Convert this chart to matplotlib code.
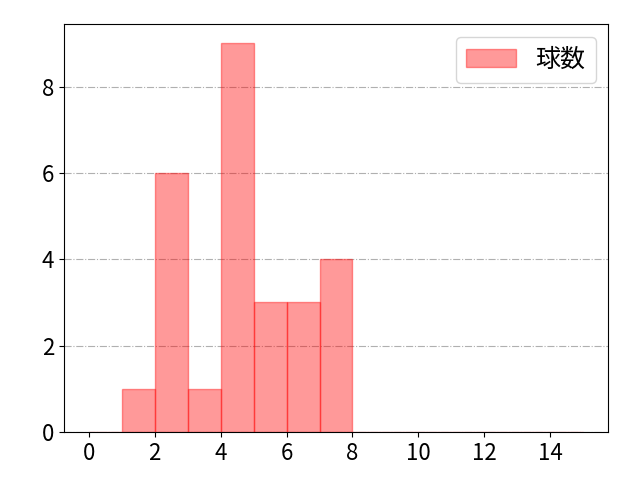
import numpy as np
import matplotlib
matplotlib.use('Agg')
import matplotlib.pyplot as plt
from matplotlib.ticker import MultipleLocator

plt.rcParams['font.family'] = ['Noto Sans CJK JP', 'DejaVu Sans']

# counts per bin of width 1 (0..15)
bin_edges = list(range(0, 16))
counts = [0, 1, 6, 1, 9, 3, 3, 4, 0, 0, 0, 0, 0, 0, 0]
label = "球数"

fig, ax = plt.subplots(figsize=(6.4, 4.8), dpi=100)
fig.subplots_adjust(left=0.1, right=0.95, bottom=0.1, top=0.95)

ax.hist(bin_edges[:-1], bins=bin_edges, weights=counts,
        color='red', alpha=0.4, edgecolor='red', label=label)

ax.xaxis.set_major_locator(MultipleLocator(2))
ax.grid(axis='y', linestyle='-.', color='#b0b0b0', linewidth=0.8)
ax.set_axisbelow(True)
ax.tick_params(labelsize=16)
ax.legend(fontsize=18, loc='upper right')

plt.savefig('out.png', dpi=100)
plt.close()
